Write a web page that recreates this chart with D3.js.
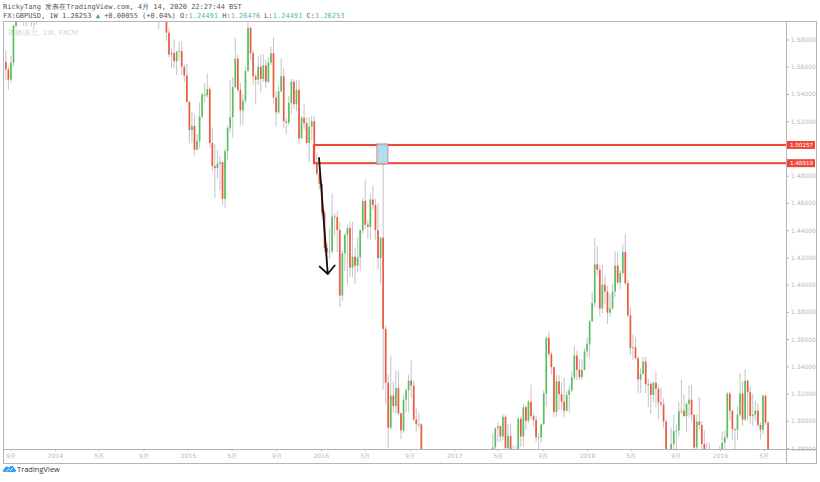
<!DOCTYPE html>
<html>
<head>
<meta charset="utf-8">
<script src="https://cdn.jsdelivr.net/npm/d3@7"></script>
<style>
  body { margin: 0; background: #fff; }
  svg { display: block; }
</style>
</head>
<body>
<div id="chart"></div>
<script>
/* GBPUSD weekly candles, TradingView snapshot look */

const width = 820, height = 482,
    pane = { left: 3, right: 786, top: 21, bottom: 449 },
    axisRight = 816, axisBottom = 463;

// weekly bars [open, high, low, close], three runs that reach into the visible price window
const start2013 = "2013-08-19";
const bars2013 = [
  [1.5635, 1.5720, 1.5500, 1.5580], [1.5580, 1.5600, 1.5430, 1.5505], [1.5505, 1.5680, 1.5480, 1.5630],
  [1.5630, 1.5910, 1.5600, 1.5900], [1.5900, 1.6160, 1.5885, 1.6020], [1.6020, 1.6140, 1.5960, 1.6125],
  [1.6125, 1.6260, 1.6060, 1.6180], [1.6180, 1.6200, 1.5900, 1.5960], [1.5960, 1.6190, 1.5895, 1.6150],
  [1.6150, 1.6260, 1.6080, 1.6100], [1.6100, 1.6140, 1.5895, 1.5950], [1.5950, 1.6130, 1.5880, 1.5990],
  [1.5990, 1.6140, 1.5910, 1.6120], [1.6120, 1.6250, 1.6040, 1.6220]
];

const start2014 = "2014-10-13";
const bars2014 = [
  [1.6080, 1.6185, 1.5875, 1.6085], [1.6085, 1.6185, 1.5990, 1.6085], [1.6085, 1.6185, 1.5945, 1.5990],
  [1.5990, 1.6010, 1.5790, 1.5850], [1.5850, 1.5880, 1.5670, 1.5690], [1.5690, 1.5740, 1.5590, 1.5700],
  [1.5700, 1.5800, 1.5590, 1.5640], [1.5640, 1.5720, 1.5540, 1.5710], [1.5710, 1.5785, 1.5645, 1.5715],
  [1.5715, 1.5785, 1.5540, 1.5600], [1.5600, 1.5620, 1.5485, 1.5535], [1.5535, 1.5620, 1.5340, 1.5340],
  [1.5340, 1.5350, 1.5035, 1.5135], [1.5135, 1.5270, 1.5040, 1.5165], [1.5165, 1.5250, 1.4950, 1.4990],
  [1.4990, 1.5105, 1.4985, 1.5055], [1.5055, 1.5340, 1.5000, 1.5235], [1.5235, 1.5410, 1.5220, 1.5395],
  [1.5395, 1.5480, 1.5335, 1.5390], [1.5390, 1.5550, 1.5370, 1.5435], [1.5435, 1.5450, 1.5005, 1.5040],
  [1.5040, 1.5155, 1.4830, 1.4870], [1.4870, 1.5030, 1.4635, 1.4855], [1.4855, 1.4990, 1.4780, 1.4890],
  [1.4890, 1.4945, 1.4690, 1.4900], [1.4900, 1.4900, 1.4585, 1.4630], [1.4630, 1.5000, 1.4565, 1.4980],
  [1.4980, 1.5170, 1.4910, 1.5150], [1.5150, 1.5500, 1.5115, 1.5230], [1.5230, 1.5525, 1.5080, 1.5450],
  [1.5450, 1.5815, 1.5440, 1.5660], [1.5660, 1.5690, 1.5410, 1.5430], [1.5430, 1.5480, 1.5170, 1.5280],
  [1.5280, 1.5400, 1.5170, 1.5350], [1.5350, 1.5600, 1.5330, 1.5570], [1.5570, 1.5930, 1.5560, 1.5885],
  [1.5885, 1.5895, 1.5650, 1.5700], [1.5700, 1.5720, 1.5465, 1.5530], [1.5530, 1.5550, 1.5330, 1.5505],
  [1.5505, 1.5675, 1.5465, 1.5600], [1.5600, 1.5690, 1.5410, 1.5510], [1.5510, 1.5690, 1.5490, 1.5610],
  [1.5610, 1.5650, 1.5440, 1.5490], [1.5490, 1.5670, 1.5480, 1.5630], [1.5630, 1.5745, 1.5610, 1.5700],
  [1.5700, 1.5815, 1.5330, 1.5375], [1.5375, 1.5420, 1.5160, 1.5265], [1.5265, 1.5460, 1.5250, 1.5420],
  [1.5420, 1.5660, 1.5410, 1.5530], [1.5530, 1.5590, 1.5150, 1.5200], [1.5200, 1.5225, 1.5105, 1.5190],
  [1.5190, 1.5385, 1.5170, 1.5335], [1.5335, 1.5510, 1.5250, 1.5490], [1.5490, 1.5510, 1.5290, 1.5325],
  [1.5325, 1.5500, 1.5275, 1.5430], [1.5430, 1.5505, 1.5030, 1.5075], [1.5075, 1.5240, 1.5070, 1.5225],
  [1.5225, 1.5330, 1.5140, 1.5185], [1.5185, 1.5230, 1.5030, 1.5040], [1.5040, 1.5230, 1.4900, 1.5160],
  [1.5160, 1.5240, 1.5060, 1.5200], [1.5200, 1.5240, 1.4890, 1.4895], [1.4895, 1.4970, 1.4800, 1.4815],
  [1.4815, 1.4875, 1.4700, 1.4740], [1.4740, 1.4750, 1.4500, 1.4530], [1.4530, 1.4550, 1.4240, 1.4270],
  [1.4270, 1.4305, 1.4080, 1.4240], [1.4240, 1.4420, 1.4190, 1.4245], [1.4245, 1.4670, 1.4230, 1.4500],
  [1.4500, 1.4525, 1.4355, 1.4495], [1.4495, 1.4540, 1.4240, 1.4400], [1.4400, 1.4460, 1.3835, 1.3920],
  [1.3920, 1.4250, 1.3880, 1.4230], [1.4230, 1.4380, 1.4100, 1.4365], [1.4365, 1.4440, 1.4000, 1.4415],
  [1.4415, 1.4460, 1.4055, 1.4125], [1.4125, 1.4460, 1.4055, 1.4205], [1.4205, 1.4275, 1.4005, 1.4140],
  [1.4140, 1.4350, 1.4090, 1.4200], [1.4200, 1.4405, 1.4100, 1.4400], [1.4400, 1.4640, 1.4370, 1.4615],
  [1.4615, 1.4770, 1.4410, 1.4440], [1.4440, 1.4475, 1.4335, 1.4425], [1.4425, 1.4665, 1.4330, 1.4625],
  [1.4625, 1.4730, 1.4545, 1.4585], [1.4585, 1.4630, 1.4330, 1.4400], [1.4400, 1.4600, 1.4115, 1.4195],
  [1.4195, 1.4355, 1.4010, 1.4345], [1.4345, 1.5020, 1.3230, 1.3675], [1.3675, 1.3700, 1.3120, 1.3280],
  [1.3280, 1.3340, 1.2800, 1.2950], [1.2950, 1.3480, 1.2935, 1.3185], [1.3185, 1.3290, 1.3060, 1.3110],
  [1.3110, 1.3370, 1.3050, 1.3240], [1.3240, 1.3370, 1.3040, 1.3055], [1.3055, 1.3060, 1.2865, 1.2930],
  [1.2930, 1.3190, 1.2910, 1.3155], [1.3155, 1.3240, 1.3060, 1.3225], [1.3225, 1.3340, 1.3060, 1.3295],
  [1.3295, 1.3445, 1.3170, 1.3260], [1.3260, 1.3300, 1.3000, 1.3010], [1.3010, 1.3090, 1.2920, 1.2975],
  [1.2975, 1.3060, 1.2945, 1.2975], [1.2975, 1.2985, 1.1840, 1.2430]
];

const start2017 = "2017-04-10";
const bars2017 = [
  [1.2410, 1.2570, 1.2390, 1.2560], [1.2560, 1.2905, 1.2515, 1.2805], [1.2805, 1.2950, 1.2775, 1.2945],
  [1.2945, 1.2990, 1.2845, 1.2960], [1.2960, 1.2970, 1.2845, 1.2885], [1.2885, 1.3050, 1.2860, 1.3030],
  [1.3030, 1.3045, 1.2775, 1.2800], [1.2800, 1.2975, 1.2770, 1.2890], [1.2890, 1.2980, 1.2635, 1.2745],
  [1.2745, 1.2820, 1.2635, 1.2785], [1.2785, 1.2815, 1.2590, 1.2715], [1.2715, 1.3030, 1.2700, 1.3015],
  [1.3015, 1.3030, 1.2810, 1.2885], [1.2885, 1.3125, 1.2810, 1.3100], [1.3100, 1.3115, 1.2930, 1.3000],
  [1.3000, 1.3155, 1.2985, 1.3140], [1.3140, 1.3265, 1.3010, 1.3035], [1.3035, 1.3055, 1.2955, 1.3005],
  [1.3005, 1.3040, 1.2845, 1.2880], [1.2880, 1.2910, 1.2775, 1.2880], [1.2880, 1.2980, 1.2840, 1.2975],
  [1.2975, 1.3225, 1.2970, 1.3200], [1.3200, 1.3620, 1.3105, 1.3610], [1.3610, 1.3655, 1.3470, 1.3490],
  [1.3490, 1.3510, 1.3340, 1.3395], [1.3395, 1.3400, 1.3025, 1.3065], [1.3065, 1.3340, 1.3030, 1.3290],
  [1.3290, 1.3335, 1.3080, 1.3195], [1.3195, 1.3285, 1.3080, 1.3140], [1.3140, 1.3320, 1.3025, 1.3075],
  [1.3075, 1.3225, 1.3070, 1.3190], [1.3190, 1.3260, 1.3060, 1.3225], [1.3225, 1.3365, 1.3210, 1.3320],
  [1.3320, 1.3550, 1.3300, 1.3480], [1.3480, 1.3515, 1.3300, 1.3375], [1.3375, 1.3455, 1.3300, 1.3320],
  [1.3320, 1.3450, 1.3305, 1.3375], [1.3375, 1.3535, 1.3370, 1.3510], [1.3510, 1.3615, 1.3470, 1.3565],
  [1.3565, 1.3745, 1.3460, 1.3730], [1.3730, 1.3945, 1.3725, 1.3865], [1.3865, 1.4345, 1.3835, 1.4150],
  [1.4150, 1.4285, 1.4065, 1.4110], [1.4110, 1.4145, 1.3765, 1.3825], [1.3825, 1.4145, 1.3790, 1.4000],
  [1.4000, 1.4070, 1.3860, 1.3950], [1.3950, 1.3990, 1.3710, 1.3795], [1.3795, 1.3930, 1.3765, 1.3825],
  [1.3825, 1.4005, 1.3815, 1.3950], [1.3950, 1.4245, 1.3910, 1.4140], [1.4140, 1.4245, 1.4000, 1.4015],
  [1.4015, 1.4105, 1.3965, 1.4085], [1.4085, 1.4295, 1.4065, 1.4240], [1.4240, 1.4375, 1.3995, 1.4010],
  [1.4010, 1.4035, 1.3760, 1.3775], [1.3775, 1.3835, 1.3485, 1.3535], [1.3535, 1.3635, 1.3450, 1.3540],
  [1.3540, 1.3615, 1.3450, 1.3460], [1.3460, 1.3475, 1.3205, 1.3305], [1.3305, 1.3385, 1.3205, 1.3345],
  [1.3345, 1.3470, 1.3340, 1.3435], [1.3435, 1.3470, 1.3205, 1.3270], [1.3270, 1.3310, 1.3100, 1.3270],
  [1.3270, 1.3290, 1.3050, 1.3190], [1.3190, 1.3290, 1.3135, 1.3280], [1.3280, 1.3365, 1.3100, 1.3235],
  [1.3235, 1.3260, 1.3010, 1.3135], [1.3135, 1.3245, 1.3105, 1.3120], [1.3120, 1.3165, 1.2950, 1.2995],
  [1.2995, 1.3010, 1.2720, 1.2760], [1.2760, 1.2790, 1.2660, 1.2740], [1.2740, 1.2950, 1.2730, 1.2830],
  [1.2830, 1.3045, 1.2785, 1.2925], [1.2925, 1.2975, 1.2785, 1.2930], [1.2930, 1.3140, 1.2885, 1.3070],
  [1.3070, 1.3300, 1.3050, 1.3075], [1.3075, 1.3195, 1.3030, 1.3035], [1.3035, 1.3135, 1.2920, 1.3125],
  [1.3125, 1.3260, 1.3025, 1.3155], [1.3155, 1.3260, 1.3000, 1.3045], [1.3045, 1.3045, 1.2775, 1.2805],
  [1.2805, 1.3045, 1.2695, 1.2995], [1.2995, 1.3175, 1.2940, 1.2970], [1.2970, 1.3000, 1.2725, 1.2830],
  [1.2830, 1.2930, 1.2760, 1.2790], [1.2790, 1.2840, 1.2715, 1.2735], [1.2735, 1.2840, 1.2685, 1.2720],
  [1.2720, 1.2735, 1.2475, 1.2580], [1.2580, 1.2700, 1.2580, 1.2635], [1.2635, 1.2740, 1.2600, 1.2740],
  [1.2740, 1.2815, 1.2375, 1.2740], [1.2740, 1.2920, 1.2680, 1.2840], [1.2840, 1.2930, 1.2670, 1.2880],
  [1.2880, 1.3215, 1.2865, 1.3200], [1.3200, 1.3215, 1.3000, 1.3075], [1.3075, 1.3075, 1.2855, 1.2940],
  [1.2940, 1.2950, 1.2775, 1.2935], [1.2935, 1.3110, 1.2855, 1.3045], [1.3045, 1.3350, 1.3030, 1.3200],
  [1.3200, 1.3290, 1.2960, 1.3010], [1.3010, 1.3380, 1.3000, 1.3295], [1.3295, 1.3300, 1.3005, 1.3210],
  [1.3210, 1.3250, 1.2975, 1.3035], [1.3035, 1.3200, 1.2960, 1.3045], [1.3045, 1.3145, 1.3000, 1.3075],
  [1.3075, 1.3125, 1.2960, 1.2970], [1.2970, 1.2990, 1.2865, 1.2935], [1.2935, 1.3195, 1.2900, 1.3185],
  [1.3185, 1.3190, 1.2970, 1.2985], [1.2985, 1.3000, 1.2745, 1.2750], [1.2750, 1.2750, 1.2605, 1.2690]
];

// 1.50000 is hidden behind the level tags in the reference
const priceTicks = [1.28, 1.30, 1.32, 1.34, 1.36, 1.38, 1.40, 1.42, 1.44, 1.46, 1.48, 1.52, 1.54, 1.56, 1.58];
const timeTickDates = ["2013-09-01", "2014-01-01", "2014-05-01", "2014-09-01", "2015-01-01", "2015-05-01",
  "2015-09-01", "2016-01-01", "2016-05-01", "2016-09-01", "2017-01-01", "2017-05-01", "2017-09-01",
  "2018-01-01", "2018-05-01", "2018-09-01", "2019-01-01", "2019-05-01"];
const timeTickLabels = ["9月", "2014", "5月", "9月", "2015", "5月", "9月", "2016", "5月", "9月", "2017",
  "5月", "9月", "2018", "5月", "9月", "2019", "5月"];

// drawings
const levelPrices = [1.50257, 1.48919];
const levelStart = "2015-12-13";
const boxDates = ["2016-06-03", "2016-07-03"];
const arrowDates = ["2015-12-27", "2016-01-20"];
const arrowPrices = [1.4930, 1.4078];

const parse = d3.timeParse("%Y-%m-%d");

function weekly(start, rows) {
  const t0 = parse(start);
  return rows.map((r, i) => ({ date: d3.timeWeek.offset(t0, i), o: r[0], h: r[1], l: r[2], c: r[3] }));
}
const bars = [].concat(weekly(start2013, bars2013), weekly(start2014, bars2014), weekly(start2017, bars2017));

const x = d3.scaleTime()
    .domain([parse("2014-01-01"), parse("2019-01-01")])
    .range([55, 720]);

const y = d3.scaleLinear()
    .domain([1.27934, 1.59358])
    .range([pane.bottom, pane.top]);

const upColor = "#5cbf5e", downColor = "#ee5a40", wickColor = "#bdbdc4",
    frameColor = "#b4b4b4", labelColor = "#b8b8b8", drawRed = "#ef4638";

const svg = d3.select("#chart")
  .append("svg")
    .attr("width", width)
    .attr("height", height)
    .attr("viewBox", [0, 0, width, height])
    .style("font-family", "'DejaVu Sans', sans-serif");

svg.append("rect").attr("width", width).attr("height", height).attr("fill", "#fff");

svg.append("clipPath").attr("id", "pane")
  .append("rect")
    .attr("x", pane.left).attr("y", pane.top)
    .attr("width", pane.right - pane.left).attr("height", pane.bottom - pane.top);

// header
const head = svg.append("g").style("font-family", "'DejaVu Sans Mono', monospace").style("font-size", "7px");
head.append("text").attr("x", 3).attr("y", 8.5).attr("fill", "#555")
    .text("RickyTang 发表在TradingView.com, 4月 14, 2020 22:27:44 BST");
const l2 = head.append("text").attr("x", 3).attr("y", 18).attr("fill", "#555");
l2.append("tspan").text("FX:GBPUSD, 1W 1.26253 ");
l2.append("tspan").attr("fill", "#4caf50").text("▲");
l2.append("tspan").text(" +0.00055 (+0.04%) O:");
l2.append("tspan").attr("fill", "#53b8b0").text("1.24491");
l2.append("tspan").text(" H:");
l2.append("tspan").attr("fill", "#53b8b0").text("1.26476");
l2.append("tspan").text(" L:");
l2.append("tspan").attr("fill", "#53b8b0").text("1.24491");
l2.append("tspan").text(" C:");
l2.append("tspan").attr("fill", "#53b8b0").text("1.26253");

// watermark
svg.append("text")
    .attr("x", 8).attr("y", 35)
    .attr("fill", "#d4d4d4")
    .style("font-size", "7px")
    .text("英镑/美元, 1W, FXCM");

// candles
const plot = svg.append("g").attr("clip-path", "url(#pane)");
const bodyW = 1.7;

plot.selectAll("line.wick")
  .data(bars)
  .join("line")
    .attr("class", "wick")
    .attr("x1", d => x(d.date)).attr("x2", d => x(d.date))
    .attr("y1", d => y(d.h)).attr("y2", d => y(d.l))
    .attr("stroke", wickColor)
    .attr("stroke-width", 0.9);

plot.selectAll("rect.body")
  .data(bars)
  .join("rect")
    .attr("class", "body")
    .attr("x", d => x(d.date) - bodyW / 2)
    .attr("width", bodyW)
    .attr("y", d => y(Math.max(d.o, d.c)))
    .attr("height", d => Math.max(0.8, Math.abs(y(d.o) - y(d.c))))
    .attr("fill", d => d.c >= d.o ? upColor : downColor);

// red zone drawn from Dec 2015 to the right edge
plot.append("rect")
    .attr("x", x(parse(levelStart)))
    .attr("y", y(levelPrices[0]))
    .attr("width", pane.right + 10 - x(parse(levelStart)))
    .attr("height", y(levelPrices[1]) - y(levelPrices[0]))
    .attr("fill", "none")
    .attr("stroke", drawRed)
    .attr("stroke-width", 2);

// highlight box on the referendum week
plot.append("rect")
    .attr("x", x(parse(boxDates[0])))
    .attr("y", y(levelPrices[0]) - 1)
    .attr("width", x(parse(boxDates[1])) - x(parse(boxDates[0])))
    .attr("height", y(levelPrices[1]) - y(levelPrices[0]) + 2)
    .attr("fill", "#aadcec")
    .attr("fill-opacity", 0.9)
    .attr("stroke", "#d08a86")
    .attr("stroke-width", 1);

// black arrow
const ax0 = x(parse(arrowDates[0])), ay0 = y(arrowPrices[0]),
    ax1 = x(parse(arrowDates[1])), ay1 = y(arrowPrices[1]);
const ang = Math.atan2(ay1 - ay0, ax1 - ax0), headLen = 11;
plot.append("path")
    .attr("d", `M${ax0},${ay0}L${ax1},${ay1}` +
      `M${ax1 - headLen * Math.cos(ang - 0.75)},${ay1 - headLen * Math.sin(ang - 0.75)}L${ax1},${ay1}` +
      `L${ax1 - headLen * Math.cos(ang + 0.75)},${ay1 - headLen * Math.sin(ang + 0.75)}`)
    .attr("fill", "none")
    .attr("stroke", "#111")
    .attr("stroke-width", 1.8)
    .attr("stroke-linecap", "round")
    .attr("stroke-linejoin", "round");

// frame
svg.append("path")
    .attr("d", `M${pane.left},${axisBottom}V${pane.top}H${axisRight}V${axisBottom}H${pane.left}` +
      `M${pane.right},${pane.top}V${axisBottom}M${pane.left},${pane.bottom}H${axisRight}`)
    .attr("fill", "none")
    .attr("stroke", frameColor)
    .attr("stroke-width", 1)
    .attr("shape-rendering", "crispEdges");

// price axis
const yAxis = svg.append("g")
    .attr("transform", `translate(${pane.right},0)`)
    .call(d3.axisRight(y).tickValues(priceTicks).tickFormat(d3.format(".5f")).tickSize(3).tickPadding(2));
yAxis.select(".domain").remove();
yAxis.selectAll(".tick line").attr("stroke", frameColor);
yAxis.selectAll(".tick text").attr("fill", labelColor).style("font-size", "6px")
    .style("font-family", "'DejaVu Sans', sans-serif");

// price labels of the two levels
const tags = svg.append("g");
levelPrices.forEach(p => {
  tags.append("rect")
      .attr("x", pane.right + 1).attr("y", y(p) - 4)
      .attr("width", axisRight - pane.right - 2).attr("height", 8)
      .attr("fill", drawRed);
  tags.append("text")
      .attr("x", (pane.right + axisRight) / 2 + 0.5).attr("y", y(p) + 2)
      .attr("text-anchor", "middle")
      .attr("fill", "#fff")
      .style("font-size", "5.6px")
      .text(d3.format(".5f")(p));
});

// time axis
const xAxis = svg.append("g")
    .attr("transform", `translate(0,${pane.bottom})`)
    .call(d3.axisBottom(x)
      .tickValues(timeTickDates.map(parse))
      .tickFormat((d, i) => timeTickLabels[i])
      .tickSize(2).tickPadding(3));
xAxis.select(".domain").remove();
xAxis.selectAll(".tick line").attr("stroke", frameColor);
xAxis.selectAll(".tick text").attr("fill", labelColor).style("font-size", "6px")
    .style("font-family", "'DejaVu Sans', sans-serif");

// logo
const logo = svg.append("g").attr("transform", "translate(3,465)");
logo.append("path")
    .attr("d", "M1,7 C-0.5,7 -0.5,4 1.5,4 C1.5,1.5 4.5,0.5 6,2.5 C7.5,0 11.5,0.5 11.5,4 C13.5,4 13.5,7 11.5,7 Z")
    .attr("fill", "#2e9ef5");
logo.append("path")
    .attr("d", "M3,6.5 L5.5,4 L7.5,5.5 L10,3")
    .attr("fill", "none").attr("stroke", "#fff").attr("stroke-width", 0.9);
svg.append("text")
    .attr("x", 17).attr("y", 472)
    .attr("fill", "#333")
    .style("font-size", "7.5px")
    .style("font-family", "'Open Sans', sans-serif")
    .text("TradingView");
</script>
</body>
</html>
